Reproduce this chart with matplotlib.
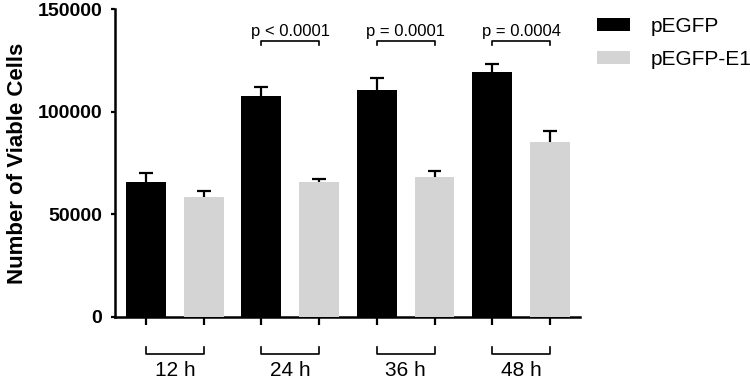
import numpy as np
import matplotlib
matplotlib.use("Agg")
import matplotlib.pyplot as plt

plt.rcParams['font.family'] = ['Liberation Sans', 'DejaVu Sans']

# values
hours = ['12 h', '24 h', '36 h', '48 h']
pegfp = [65800, 107800, 110500, 119600]
pegfp_err = [4200, 4300, 5900, 3900]
pegfp_e1 = [58200, 65500, 68300, 85500]
pegfp_e1_err = [3300, 1600, 2800, 5000]
p_labels = [None, 'p < 0.0001', 'p = 0.0001', 'p = 0.0004']
y_ticks = [0, 50000, 100000, 150000]

fig = plt.figure(figsize=(7.5, 3.8), dpi=100)
ax = fig.add_axes([0.1533, 0.167, 0.62, 0.808])

x_black = np.arange(len(hours)) * 2
x_grey = x_black + 1
width = 0.69
cap = 0.12

ax.bar(x_black, pegfp, width, color='black', label='pEGFP', zorder=3)
ax.bar(x_grey, pegfp_e1, width, color='#d4d4d4', label='pEGFP-E1', zorder=3)

# upward-only error bars
for xs, vals, errs in [(x_black, pegfp, pegfp_err), (x_grey, pegfp_e1, pegfp_e1_err)]:
    tops = np.array(vals) + np.array(errs)
    ax.vlines(xs, vals, tops, color='black', lw=1.6, zorder=4)
    ax.hlines(tops, xs - cap, xs + cap, color='black', lw=1.6, zorder=4)

ax.set_xlim(-0.537, 7.52)
ax.set_ylim(0, 150000)
ax.set_yticks(y_ticks)
ax.set_yticklabels([str(v) for v in y_ticks], fontsize=14, fontweight='bold')

ax.set_xticks(np.concatenate([x_black, x_grey]))
ax.set_xticklabels([])
ax.tick_params(axis='x', length=6, width=1.6, direction='out')
ax.tick_params(axis='y', length=3, width=1.6, direction='out', pad=6)

for side in ['top', 'right']:
    ax.spines[side].set_visible(False)
for side in ['left', 'bottom']:
    ax.spines[side].set_linewidth(1.8)

ax.set_ylabel('Number of Viable Cells', fontsize=16, fontweight='bold')
ax.yaxis.set_label_coords(-0.188, 0.5)

# group brackets under the axis
for xb, xg, lab in zip(x_black, x_grey, hours):
    ax.plot([xb, xb, xg, xg], [-14900, -18100, -18100, -14900], color='black',
            lw=1.2, clip_on=False)
    ax.text((xb + xg) / 2, -21500, lab, ha='center', va='top', fontsize=15)

# significance brackets
for xb, xg, lab in zip(x_black, x_grey, p_labels):
    if lab is None:
        continue
    ax.plot([xb, xb, xg, xg], [132700, 134500, 134500, 132700], color='black',
            lw=1.2, clip_on=False)
    ax.text((xb + xg) / 2, 135600, lab, ha='center', va='bottom', fontsize=12)

ax.legend(loc='upper left', bbox_to_anchor=(0.796, 0.955), bbox_transform=fig.transFigure,
          frameon=False, fontsize=15, handlelength=1.6, handleheight=0.58,
          handletextpad=0.96, labelspacing=0.68, borderpad=0, borderaxespad=0)

fig.savefig('out.png', dpi=100)
